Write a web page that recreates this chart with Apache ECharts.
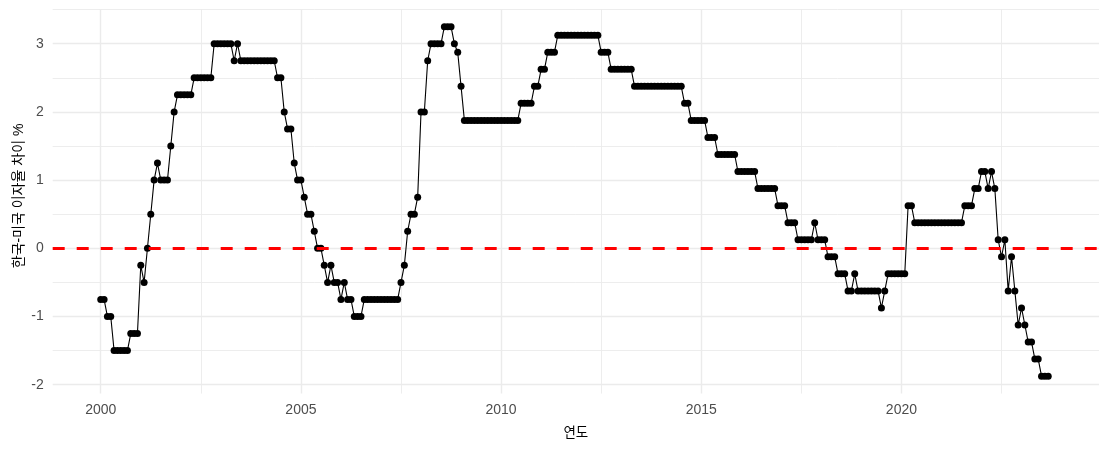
<!DOCTYPE html>
<html>
<head>
<meta charset="utf-8">
<script src="https://cdn.jsdelivr.net/npm/echarts@6/dist/echarts.min.js"></script>
<style>
  html, body { margin: 0; padding: 0; background: #ffffff; }
  #chart { width: 1109px; height: 449px; }
</style>
</head>
<body>
<div id="chart"></div>
<script>
// Years covered (monthly observations, Jan..Dec; 2023 ends in September)
const years = [2000, 2001, 2002, 2003, 2004, 2005, 2006, 2007, 2008, 2009, 2010, 2011,
               2012, 2013, 2014, 2015, 2016, 2017, 2018, 2019, 2020, 2021, 2022, 2023];

// Korea - US policy rate differential (%), one row per year, one value per month
const spreadByYear = [
  [-0.75, -0.75, -1.0, -1.0, -1.5, -1.5, -1.5, -1.5, -1.5, -1.25, -1.25, -1.25],   // 2000
  [-0.25, -0.5, 0, 0.5, 1.0, 1.25, 1.0, 1.0, 1.0, 1.5, 2.0, 2.25],                   // 2001
  [2.25, 2.25, 2.25, 2.25, 2.5, 2.5, 2.5, 2.5, 2.5, 2.5, 3.0, 3.0],                   // 2002
  [3.0, 3.0, 3.0, 3.0, 2.75, 3.0, 2.75, 2.75, 2.75, 2.75, 2.75, 2.75],               // 2003
  [2.75, 2.75, 2.75, 2.75, 2.75, 2.5, 2.5, 2.0, 1.75, 1.75, 1.25, 1.0],              // 2004
  [1.0, 0.75, 0.5, 0.5, 0.25, 0, 0, -0.25, -0.5, -0.25, -0.5, -0.5],                 // 2005
  [-0.75, -0.5, -0.75, -0.75, -1.0, -1.0, -1.0, -0.75, -0.75, -0.75, -0.75, -0.75],  // 2006
  [-0.75, -0.75, -0.75, -0.75, -0.75, -0.75, -0.5, -0.25, 0.25, 0.5, 0.5, 0.75],     // 2007
  [2.0, 2.0, 2.75, 3.0, 3.0, 3.0, 3.0, 3.25, 3.25, 3.25, 3.0, 2.875],                // 2008
  [2.375, 1.875, 1.875, 1.875, 1.875, 1.875, 1.875, 1.875, 1.875, 1.875, 1.875, 1.875], // 2009
  [1.875, 1.875, 1.875, 1.875, 1.875, 1.875, 2.125, 2.125, 2.125, 2.125, 2.375, 2.375], // 2010
  [2.625, 2.625, 2.875, 2.875, 2.875, 3.125, 3.125, 3.125, 3.125, 3.125, 3.125, 3.125], // 2011
  [3.125, 3.125, 3.125, 3.125, 3.125, 3.125, 2.875, 2.875, 2.875, 2.625, 2.625, 2.625], // 2012
  [2.625, 2.625, 2.625, 2.625, 2.375, 2.375, 2.375, 2.375, 2.375, 2.375, 2.375, 2.375], // 2013
  [2.375, 2.375, 2.375, 2.375, 2.375, 2.375, 2.375, 2.125, 2.125, 1.875, 1.875, 1.875], // 2014
  [1.875, 1.875, 1.625, 1.625, 1.625, 1.375, 1.375, 1.375, 1.375, 1.375, 1.375, 1.125], // 2015
  [1.125, 1.125, 1.125, 1.125, 1.125, 0.875, 0.875, 0.875, 0.875, 0.875, 0.875, 0.625], // 2016
  [0.625, 0.625, 0.375, 0.375, 0.375, 0.125, 0.125, 0.125, 0.125, 0.125, 0.375, 0.125], // 2017
  [0.125, 0.125, -0.125, -0.125, -0.125, -0.375, -0.375, -0.375, -0.625, -0.625, -0.375, -0.625], // 2018
  [-0.625, -0.625, -0.625, -0.625, -0.625, -0.625, -0.875, -0.625, -0.375, -0.375, -0.375, -0.375], // 2019
  [-0.375, -0.375, 0.625, 0.625, 0.375, 0.375, 0.375, 0.375, 0.375, 0.375, 0.375, 0.375], // 2020
  [0.375, 0.375, 0.375, 0.375, 0.375, 0.375, 0.375, 0.625, 0.625, 0.625, 0.875, 0.875], // 2021
  [1.125, 1.125, 0.875, 1.125, 0.875, 0.125, -0.125, 0.125, -0.625, -0.125, -0.625, -1.125], // 2022
  [-0.875, -1.125, -1.375, -1.375, -1.625, -1.625, -1.875, -1.875, -1.875]           // 2023
];

const xMajorTicks = [2000, 2005, 2010, 2015, 2020];
const xMinorTicks = [2002.5, 2007.5, 2012.5, 2017.5, 2022.5];
const yMajorTicks = [-2, -1, 0, 1, 2, 3];
const yMinorTicks = [-1.5, -0.5, 0.5, 1.5, 2.5, 3.5];

const xTitle = '연도';
const yTitle = '한국-미국 이자율 차이 %';

// Build [decimal year, value] pairs
const seriesData = [];
years.forEach((y, i) => {
  spreadByYear[i].forEach((v, m) => {
    seriesData.push([y + m / 12, v]);
  });
});

const FONT = '"Liberation Sans", "Noto Sans CJK KR", Arial, sans-serif';
const GRID_COLOR = '#EBEBEB';

const chart = echarts.init(document.getElementById('chart'), null, { renderer: 'canvas' });

const xMin = 1998.8, xMax = 2024.935;
const yMin = -2.131, yMax = 3.506;

chart.setOption({
  animation: false,
  backgroundColor: '#ffffff',
  grid: { left: 52.7, right: 10, top: 9.2, bottom: 55.4, containLabel: false },
  graphic: [
    {
      type: 'text',
      x: 19.5, y: 196,
      rotation: Math.PI / 2,
      silent: true,
      style: {
        text: yTitle, fill: '#000000', fontSize: 14, fontFamily: FONT,
        align: 'center', verticalAlign: 'middle'
      }
    }
  ],
  xAxis: [
    {
      type: 'value', min: xMin, max: xMax, position: 'bottom',
      axisLine: { show: false },
      axisTick: { show: false, customValues: xMajorTicks },
      axisLabel: {
        customValues: xMajorTicks, color: '#4D4D4D', fontSize: 14, fontFamily: FONT, margin: 10,
        formatter: v => String(v)
      },
      splitLine: { show: true, lineStyle: { color: GRID_COLOR, width: 1.4 } },
      name: xTitle, nameLocation: 'middle', nameGap: 33,
      nameTextStyle: { color: '#000000', fontSize: 13.5, fontFamily: FONT }
    },
    {
      type: 'value', min: xMin, max: xMax, position: 'top',
      axisLine: { show: false },
      axisTick: { show: false, customValues: xMinorTicks },
      axisLabel: { show: false, customValues: xMinorTicks },
      splitLine: { show: true, lineStyle: { color: GRID_COLOR, width: 0.9 } }
    }
  ],
  yAxis: [
    {
      type: 'value', min: yMin, max: yMax, position: 'left',
      axisLine: { show: false },
      axisTick: { show: false, customValues: yMajorTicks },
      axisLabel: {
        customValues: yMajorTicks, color: '#4D4D4D', fontSize: 14, fontFamily: FONT, margin: 9,
        formatter: v => String(v)
      },
      splitLine: { show: true, lineStyle: { color: GRID_COLOR, width: 1.4 } }
    },
    {
      type: 'value', min: yMin, max: yMax, position: 'right',
      axisLine: { show: false },
      axisTick: { show: false, customValues: yMinorTicks },
      axisLabel: { show: false, customValues: yMinorTicks },
      splitLine: { show: true, lineStyle: { color: GRID_COLOR, width: 0.9 } }
    }
  ],
  series: [
    {
      type: 'line',
      name: 'zero',
      xAxisIndex: 0, yAxisIndex: 0,
      data: [],
      z: 1,
      silent: true,
      markLine: {
        silent: true,
        symbol: ['none', 'none'],
        label: { show: false },
        lineStyle: { color: '#FF0000', width: 3, type: [12, 12] },
        data: [{ yAxis: 0 }]
      }
    },
    {
      type: 'line',
      name: 'spread',
      xAxisIndex: 0, yAxisIndex: 0,
      data: seriesData,
      z: 3,
      showSymbol: true,
      showAllSymbol: true,
      symbol: 'circle',
      symbolSize: 7,
      itemStyle: { color: '#000000' },
      lineStyle: { color: '#000000', width: 1.1 }
    }
  ]
});
</script>
</body>
</html>
